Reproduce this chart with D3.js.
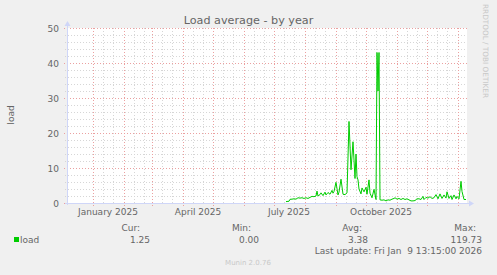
<!DOCTYPE html>
<html>
<head>
<meta charset="utf-8">
<script src="https://cdn.jsdelivr.net/npm/d3@7"></script>
<style>
    body { margin: 0; background: #f0f0f0; }
    svg { display: block; font-family: "DejaVu Sans", sans-serif; }
    text { fill: #666666; }
</style>
</head>
<body>
<svg></svg>
<script>
// daily load averages
var dates = ["2025-07-13", "2025-07-16", "2025-07-17", "2025-07-19", "2025-07-21", "2025-07-23",
    "2025-07-25", "2025-07-27", "2025-07-29", "2025-07-31", "2025-08-02", "2025-08-04",
    "2025-08-06", "2025-08-08", "2025-08-10", "2025-08-12", "2025-08-13", "2025-08-14",
    "2025-08-16", "2025-08-17", "2025-08-19", "2025-08-21", "2025-08-22", "2025-08-24",
    "2025-08-26", "2025-08-28", "2025-08-29", "2025-08-30", "2025-09-01", "2025-09-03",
    "2025-09-04", "2025-09-06", "2025-09-08", "2025-09-10", "2025-09-12", "2025-09-14",
    "2025-09-16", "2025-09-18", "2025-09-20", "2025-09-21", "2025-09-22", "2025-09-23",
    "2025-09-24", "2025-09-26", "2025-09-27", "2025-09-29", "2025-10-01", "2025-10-02",
    "2025-10-04", "2025-10-05", "2025-10-07", "2025-10-09", "2025-10-11", "2025-10-12",
    "2025-10-13", "2025-10-14", "2025-10-15", "2025-10-17", "2025-10-19", "2025-10-21",
    "2025-10-23", "2025-10-25", "2025-10-27", "2025-10-29", "2025-10-30", "2025-11-01",
    "2025-11-03", "2025-11-05", "2025-11-07", "2025-11-09", "2025-11-11", "2025-11-13",
    "2025-11-15", "2025-11-17", "2025-11-19", "2025-11-21", "2025-11-23", "2025-11-25",
    "2025-11-27", "2025-11-28", "2025-11-30", "2025-12-02", "2025-12-04", "2025-12-06",
    "2025-12-08", "2025-12-10", "2025-12-12", "2025-12-14", "2025-12-16", "2025-12-18",
    "2025-12-20", "2025-12-21", "2025-12-23", "2025-12-25", "2025-12-26", "2025-12-28",
    "2025-12-30", "2025-12-31", "2026-01-02", "2026-01-04", "2026-01-05", "2026-01-07",
    "2026-01-09"]
var loads = [0.4, 0.5, 1.05, 1.1, 1.2, 1.1,
    1.5, 1.4, 1.5, 1.3, 1.5, 1.3,
    1.6, 1.9, 1.8, 2.0, 3.4, 2.0,
    2.4, 2.9, 2.1, 3.1, 2.3, 3.0,
    2.5, 3.6, 2.8, 3.3, 5.9, 2.3,
    3.1, 6.8, 2.5, 2.4, 2.9, 23.3,
    9.5, 17.5, 7.0, 14.0, 7.5, 6.6,
    4.0, 2.6, 4.3, 3.2, 4.5, 2.5,
    6.6, 2.8, 1.5, 3.9, 1.0, 43,
    32, 43, 0.9, 0.8, 0.9, 0.6,
    0.9, 0.8, 1.1, 1.3, 1.5, 1.1,
    1.3, 1.0, 1.3, 1.0, 1.2, 0.9,
    0.6, 0.6, 0.7, 1.2, 1.2, 1.0,
    1.9, 1.0, 1.6, 1.4, 1.8, 1.3,
    1.5, 2.4, 1.2, 2.6, 1.3, 2.3,
    1.4, 3.2, 1.3, 2.1, 1.0, 2.3,
    1.2, 1.9, 1.2, 6.2, 3.3, 1.0,
    1.0]

var yTicks = [0, 10, 20, 30, 40, 50]
var xLabels = ["January 2025", "April 2025", "July 2025", "October 2025"]
var xLabelDates = ["2025-01-16", "2025-04-16", "2025-07-16", "2025-10-16"]

var legendHeads = ["Cur:", "Min:", "Avg:", "Max:"]
var legendValues = ["1.25", "0.00", "3.38", "119.73"]

var parseDate = d3.timeParse("%Y-%m-%d")

var screen = { width: 497, height: 275 }
var plot = { left: 67, right: 467, top: 28, bottom: 203 }

var svg = d3.select("svg")
    .attr("width", screen.width)
    .attr("height", screen.height)

svg.append("rect")
    .attr("width", screen.width)
    .attr("height", screen.height)
    .attr("fill", "#f0f0f0")

var xScale = d3.scaleTime()
    .domain([parseDate("2024-12-06"), parseDate("2026-01-10")])
    .range([plot.left, plot.right])

var yScale = d3.scaleLinear()
    .domain([0, 50])
    .range([plot.bottom, plot.top])

svg.append("rect")
    .attr("x", plot.left)
    .attr("y", plot.top)
    .attr("width", plot.right - plot.left)
    .attr("height", plot.bottom - plot.top)
    .attr("fill", "white")

//grid: minor lines every 10 days / 2 units, major every month / 10 units
var months = d3.timeMonth.range(xScale.domain()[0], xScale.domain()[1])
var minorDays = []
months.forEach(function (m) {
    minorDays.push(d3.timeDay.offset(m, 10))
    minorDays.push(d3.timeDay.offset(m, 20))
})
var domain = xScale.domain()
minorDays = minorDays.filter(function (d) { return d > domain[0] && d < domain[1] })
var minorValues = d3.range(2, 50, 2).filter(function (v) { return v % 10 != 0 })

var minorColor = "#d6d6d6"
var majorColor = "#eba0a0"

var grid = svg.append("g")
    .attr("fill", "none")
    .attr("shape-rendering", "crispEdges")

grid.selectAll(".vminor")
    .data(minorDays)
    .enter()
    .append("line")
    .attr("x1", function (d) { return Math.round(xScale(d)) + 0.5 })
    .attr("x2", function (d) { return Math.round(xScale(d)) + 0.5 })
    .attr("y1", plot.top)
    .attr("y2", plot.bottom + 2)
    .attr("stroke", minorColor)
    .attr("stroke-dasharray", "1,2")

grid.selectAll(".hminor")
    .data(minorValues)
    .enter()
    .append("line")
    .attr("x1", plot.left - 2)
    .attr("x2", plot.right)
    .attr("y1", function (v) { return Math.round(yScale(v)) + 0.5 })
    .attr("y2", function (v) { return Math.round(yScale(v)) + 0.5 })
    .attr("stroke", minorColor)
    .attr("stroke-dasharray", "1,2")

grid.selectAll(".vmajor")
    .data(months.filter(function (d) { return d > domain[0] }))
    .enter()
    .append("line")
    .attr("x1", function (d) { return Math.round(xScale(d)) + 0.5 })
    .attr("x2", function (d) { return Math.round(xScale(d)) + 0.5 })
    .attr("y1", plot.top)
    .attr("y2", plot.bottom + 3)
    .attr("stroke", majorColor)
    .attr("stroke-dasharray", "1,2")

grid.selectAll(".hmajor")
    .data(yTicks)
    .enter()
    .append("line")
    .attr("x1", plot.left - 3)
    .attr("x2", plot.right)
    .attr("y1", function (v) { return Math.round(yScale(v)) + 0.5 })
    .attr("y2", function (v) { return Math.round(yScale(v)) + 0.5 })
    .attr("stroke", majorColor)
    .attr("stroke-dasharray", "1,2")

//axes with arrows
var axisColor = "#cfd6f8"
svg.append("line")
    .attr("x1", plot.left - 2).attr("x2", plot.right + 3)
    .attr("y1", plot.bottom + 0.5).attr("y2", plot.bottom + 0.5)
    .attr("stroke", axisColor)
svg.append("line")
    .attr("x1", plot.left + 0.5).attr("x2", plot.left + 0.5)
    .attr("y1", plot.bottom + 2).attr("y2", plot.top - 3)
    .attr("stroke", axisColor)
svg.append("path")
    .attr("d", "M" + (plot.right + 2) + "," + (plot.bottom - 2.5) + "L" + (plot.right + 7) + "," + (plot.bottom + 0.5) +
        "L" + (plot.right + 2) + "," + (plot.bottom + 3.5) + "Z")
    .attr("fill", axisColor)
svg.append("path")
    .attr("d", "M" + (plot.left - 2.5) + "," + (plot.top - 2) + "L" + (plot.left + 0.5) + "," + (plot.top - 7) +
        "L" + (plot.left + 3.5) + "," + (plot.top - 2) + "Z")
    .attr("fill", axisColor)

//the data line
var points = dates.map(function (d, i) {
    return { date: parseDate(d), load: loads[i] }
})

var lineGenerator = d3.line()
    .x(function (p) { return xScale(p.date) })
    .y(function (p) { return yScale(p.load) })

svg.append("path")
    .datum(points)
    .attr("d", lineGenerator)
    .attr("fill", "none")
    .attr("stroke", "#00cc00")
    .attr("stroke-width", 1)

//labels
svg.selectAll(".ylabel")
    .data(yTicks)
    .enter()
    .append("text")
    .attr("x", 59)
    .attr("y", function (v) { return yScale(v) + 3.5 })
    .attr("text-anchor", "end")
    .attr("font-size", "9px")
    .text(function (v) { return v })

svg.selectAll(".xlabel")
    .data(xLabels)
    .enter()
    .append("text")
    .attr("x", function (t, i) { return xScale(parseDate(xLabelDates[i])) })
    .attr("y", 215)
    .attr("text-anchor", "middle")
    .attr("font-size", "9px")
    .text(function (t) { return t })

svg.append("text")
    .text("Load average - by year")
    .attr("x", 248.5)
    .attr("y", 24)
    .attr("text-anchor", "middle")
    .attr("font-size", "11.2px")

svg.append("text")
    .text("load")
    .attr("transform", "translate(14,115) rotate(-90)")
    .attr("text-anchor", "middle")
    .attr("font-size", "9px")

svg.append("text")
    .text("RRDTOOL / TOBI OETIKER")
    .attr("transform", "translate(483,51) rotate(90)")
    .attr("text-anchor", "middle")
    .attr("font-size", "7.3px")
    .style("fill", "#c8c8c8")

//legend
var headRight = [140, 251, 362, 476]
var valueRight = [150, 259, 368, 482]

svg.append("rect")
    .attr("x", 14).attr("y", 237)
    .attr("width", 5).attr("height", 5)
    .attr("fill", "#00cc00")
svg.append("text")
    .text("load")
    .attr("x", 20).attr("y", 242.5)
    .attr("font-size", "9px")

svg.selectAll(".lhead")
    .data(legendHeads)
    .enter()
    .append("text")
    .attr("x", function (t, i) { return headRight[i] })
    .attr("y", 230.5)
    .attr("text-anchor", "end")
    .attr("font-size", "9px")
    .text(function (t) { return t })

svg.selectAll(".lvalue")
    .data(legendValues)
    .enter()
    .append("text")
    .attr("x", function (t, i) { return valueRight[i] })
    .attr("y", 242.5)
    .attr("text-anchor", "end")
    .attr("font-size", "9px")
    .text(function (t) { return t })

svg.append("text")
    .text("Last update: Fri Jan\u00a0\u00a09 13:15:00 2026")
    .attr("x", 482).attr("y", 254)
    .attr("text-anchor", "end")
    .attr("font-size", "9px")

svg.append("text")
    .text("Munin 2.0.76")
    .attr("x", 248).attr("y", 265)
    .attr("text-anchor", "middle")
    .attr("font-size", "7px")
    .style("fill", "#c8c8c8")
</script>
</body>
</html>
